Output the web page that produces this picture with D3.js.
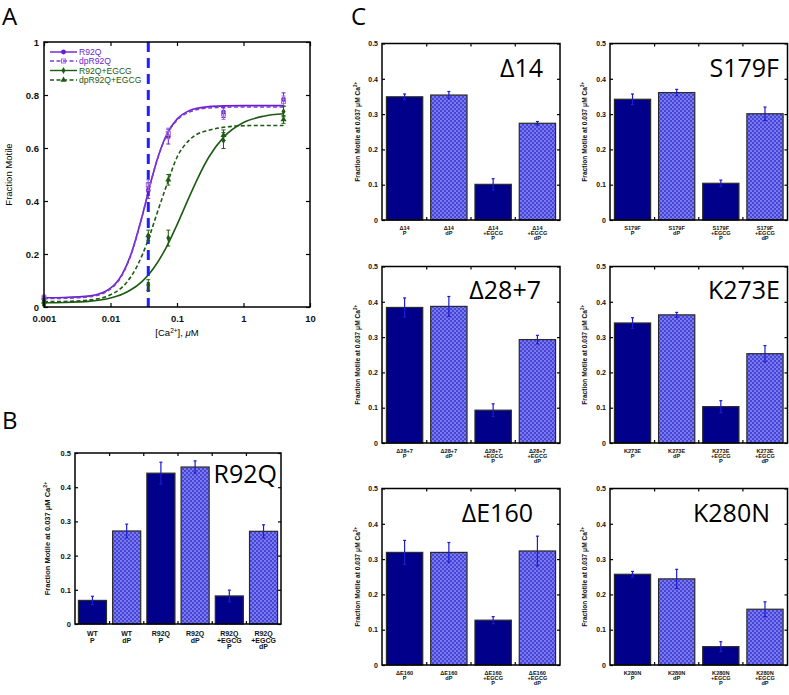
<!DOCTYPE html>
<html>
<head>
<meta charset="utf-8">
<script src="https://cdn.jsdelivr.net/npm/d3@7"></script>
<style>
body { margin: 0; background: #fff; }
svg { display: block; font-family: "Liberation Sans", Arial, sans-serif; }
</style>
</head>
<body>
<div id="fig"></div>
<script>
// ---- Panel A data: fraction motile vs [Ca2+]
var caConc = [0.001, 0.037, 0.074, 0.5, 4];
var r92q = [0.030, 0.440, 0.643, 0.735, 0.783];
var r92qErr = [0.010, 0.030, 0.028, 0.020, 0.025];
var dpR92q = [0.035, 0.460, 0.655, 0.728, 0.776];
var dpR92qErr = [0.010, 0.020, 0.020, 0.020, 0.020];
var r92qEgcg = [0.015, 0.083, 0.260, 0.628, 0.738];
var r92qEgcgErr = [0.010, 0.020, 0.030, 0.030, 0.020];
var dpR92qEgcg = [0.020, 0.270, 0.480, 0.648, 0.708];
var dpR92qEgcgErr = [0.010, 0.020, 0.020, 0.020, 0.015];

// fitted curves
var fitCa = [0.001, 0.002, 0.005, 0.01, 0.015, 0.02, 0.03, 0.04, 0.05, 0.07, 0.1, 0.15, 0.2, 0.3, 0.5, 1, 2, 4];
var fitR92q = [0.035, 0.036, 0.042, 0.071, 0.124, 0.194, 0.344, 0.467, 0.554, 0.651, 0.709, 0.740, 0.750, 0.756, 0.759, 0.760, 0.760, 0.760];
var fitDpR92q = [0.032, 0.033, 0.039, 0.068, 0.121, 0.192, 0.343, 0.467, 0.553, 0.648, 0.705, 0.735, 0.745, 0.751, 0.754, 0.755, 0.755, 0.755];
var fitR92qEgcg = [0.016, 0.017, 0.022, 0.034, 0.048, 0.064, 0.097, 0.131, 0.165, 0.228, 0.310, 0.411, 0.480, 0.565, 0.640, 0.696, 0.720, 0.729];
var fitDpR92qEgcg = [0.020, 0.021, 0.027, 0.046, 0.075, 0.112, 0.196, 0.279, 0.353, 0.460, 0.565, 0.628, 0.652, 0.667, 0.678, 0.684, 0.685, 0.685];

var seriesNames = ['R92Q', 'dpR92Q', 'R92Q+EGCG', 'dpR92Q+EGCG'];
var xTicksA = [0.001, 0.01, 0.1, 1, 10];
var yTicksA = [0, 0.2, 0.4, 0.6, 0.8, 1];

// ---- Panel B data: fraction motile at 0.037 uM Ca2+
var bLabels = [['WT', 'P'], ['WT', 'dP'], ['R92Q', 'P'], ['R92Q', 'dP'], ['R92Q', '+EGCG', 'P'], ['R92Q', '+EGCG', 'dP']];
var bKinds = ['P', 'dP', 'P', 'dP', 'P', 'dP'];
var bValues = [0.069, 0.272, 0.441, 0.459, 0.082, 0.271];
var bErrors = [0.012, 0.020, 0.032, 0.018, 0.017, 0.019];

// ---- Panel C data
var cMutants = ['\u039414', 'S179F', '\u039428+7', 'K273E', '\u0394E160', 'K280N'];
var cKinds = ['P', 'dP', 'P', 'dP'];
var cValues = [
  [0.349, 0.354, 0.101, 0.274],
  [0.342, 0.361, 0.104, 0.301],
  [0.384, 0.387, 0.093, 0.293],
  [0.340, 0.363, 0.103, 0.253],
  [0.319, 0.319, 0.127, 0.323],
  [0.257, 0.244, 0.052, 0.158]
];
var cErrors = [
  [0.008, 0.010, 0.016, 0.005],
  [0.015, 0.009, 0.009, 0.019],
  [0.027, 0.028, 0.018, 0.012],
  [0.015, 0.007, 0.017, 0.023],
  [0.034, 0.028, 0.010, 0.042],
  [0.008, 0.027, 0.014, 0.021]
];
var barTicks = [0, 0.1, 0.2, 0.3, 0.4, 0.5];

var width = 789, height = 695;
var svg = d3.select('#fig').append('svg').attr('width', width).attr('height', height);

// checkered fill for the dP bars
var pat = svg.append('defs').append('pattern').attr('id', 'dpFill')
  .attr('patternUnits', 'userSpaceOnUse').attr('width', 4).attr('height', 4);
pat.append('rect').attr('width', 4).attr('height', 4).attr('fill', '#4646d6');
pat.append('rect').attr('width', 2).attr('height', 2).attr('fill', '#7a7aee');
pat.append('rect').attr('x', 2).attr('y', 2).attr('width', 2).attr('height', 2).attr('fill', '#7a7aee');

// panel letters
svg.append('text').attr('x', 2).attr('y', 25).text('A');
svg.append('text').attr('x', 2).attr('y', 429).text('B');
svg.append('text').attr('x', 351).attr('y', 25).text('C');
svg.selectAll('text').attr('font-family', '"Open Sans", sans-serif').attr('font-size', 24);

function styleAxis(g, fs) {
  g.select('.domain').remove();
  g.attr('font-family', null).attr('font-size', fs).attr('font-weight', 'bold');
  g.selectAll('line').attr('stroke', '#000').attr('stroke-width', 1.2);
  g.selectAll('text').attr('fill', '#111');
}

// ================= Panel A =================
var A = {left: 44, right: 310, top: 42, bottom: 307};
var xA = d3.scaleLog().domain([0.001, 10]).range([A.left, A.right]);
var yA = d3.scaleLinear().domain([0, 1]).range([A.bottom, A.top]);
var gA = svg.append('g');

var purple = '#6a1fcf', midPurple = '#7d3ad8', lightPurple = '#a06ae0', green = '#1d5a12';
var colors = [purple, midPurple, green, green];
var markColors = [purple, lightPurple, green, green];
var dashes = [null, '4,2.5', null, '4,2.5'];
var markers = ['circle', 'square', 'diamond', 'triangle'];
var pts = [r92q, dpR92q, r92qEgcg, dpR92qEgcg];
var errs = [r92qErr, dpR92qErr, r92qEgcgErr, dpR92qEgcgErr];
var fits = [fitR92q, fitDpR92q, fitR92qEgcg, fitDpR92qEgcg];

gA.append('g').attr('transform', 'translate(0,' + A.bottom + ')')
  .call(d3.axisBottom(xA).tickValues(xTicksA).tickFormat(d3.format('~g')).tickSizeInner(-4).tickSizeOuter(0).tickPadding(8))
  .call(g => styleAxis(g, 9.5));
gA.append('g').attr('transform', 'translate(0,' + A.top + ')')
  .call(d3.axisTop(xA).tickValues(xTicksA).tickFormat('').tickSizeInner(-4).tickSizeOuter(0))
  .call(g => styleAxis(g, 9.5));
gA.append('g').attr('transform', 'translate(' + A.left + ',0)')
  .call(d3.axisLeft(yA).tickValues(yTicksA).tickFormat(d3.format('~g')).tickSizeInner(-4).tickSizeOuter(0).tickPadding(5))
  .call(g => styleAxis(g, 9.5));
gA.append('g').attr('transform', 'translate(' + A.right + ',0)')
  .call(d3.axisRight(yA).tickValues(yTicksA).tickFormat('').tickSizeInner(-4).tickSizeOuter(0))
  .call(g => styleAxis(g, 9.5));

// fitted curves
var line = d3.line().x(d => xA(d[0])).y(d => yA(d[1])).curve(d3.curveMonotoneX);
fits.forEach(function (f, k) {
  gA.append('path').datum(fitCa.map((c, i) => [c, f[i]]))
    .attr('d', line).attr('fill', 'none').attr('stroke', colors[k])
    .attr('stroke-width', 1.6).attr('stroke-dasharray', dashes[k]);
});

// 0.037 uM reference line
gA.append('line').attr('x1', xA(0.037)).attr('x2', xA(0.037))
  .attr('y1', A.top).attr('y2', A.bottom)
  .attr('stroke', '#1f1fff').attr('stroke-width', 3).attr('stroke-dasharray', '10,6');

function marker(g, type, cx, cy, color) {
  if (type === 'circle') g.append('circle').attr('cx', cx).attr('cy', cy).attr('r', 2.4).attr('fill', color);
  else if (type === 'square') g.append('rect').attr('x', cx - 2).attr('y', cy - 2).attr('width', 4).attr('height', 4)
    .attr('fill', 'none').attr('stroke', color).attr('stroke-width', 1);
  else if (type === 'diamond') g.append('path').attr('d', d3.symbol(d3.symbolDiamond, 14)()).attr('transform', 'translate(' + cx + ',' + cy + ')').attr('fill', color);
  else g.append('path').attr('d', d3.symbol(d3.symbolTriangle, 16)()).attr('transform', 'translate(' + cx + ',' + cy + ')').attr('fill', color);
}

// data points with error bars
pts.forEach(function (s, k) {
  var g = gA.append('g');
  s.forEach(function (v, i) {
    var cx = xA(caConc[i]), e = errs[k][i];
    g.append('line').attr('x1', cx).attr('x2', cx).attr('y1', yA(v - e)).attr('y2', yA(v + e))
      .attr('stroke', markColors[k]).attr('stroke-width', 1);
    [v - e, v + e].forEach(function (w) {
      g.append('line').attr('x1', cx - 2).attr('x2', cx + 2).attr('y1', yA(w)).attr('y2', yA(w))
        .attr('stroke', markColors[k]).attr('stroke-width', 1);
    });
    marker(g, markers[k], cx, yA(v), markColors[k]);
  });
});

// frame
gA.append('rect').attr('x', A.left).attr('y', A.top).attr('width', A.right - A.left).attr('height', A.bottom - A.top)
  .attr('fill', 'none').attr('stroke', '#000').attr('stroke-width', 1.5);

// legend
var legY = [52, 61, 70.5, 80];
seriesNames.forEach(function (name, k) {
  var g = gA.append('g');
  g.append('line').attr('x1', 50).attr('x2', 77).attr('y1', legY[k]).attr('y2', legY[k])
    .attr('stroke', colors[k]).attr('stroke-width', 1.4).attr('stroke-dasharray', dashes[k]);
  marker(g, markers[k], 63.5, legY[k], markColors[k]);
  g.append('text').attr('x', 79).attr('y', legY[k] + 3).attr('font-size', 8.6)
    .attr('fill', k < 2 ? purple : green).text(name);
});

// axis titles
var xt = gA.append('text').attr('x', 177).attr('y', 336).attr('text-anchor', 'middle').attr('font-size', 9.5);
xt.append('tspan').text('[Ca');
xt.append('tspan').attr('dy', -3.5).attr('font-size', 6.5).text('2+');
xt.append('tspan').attr('dy', 3.5).text('], ');
xt.append('tspan').attr('font-style', 'italic').text('\u03bc');
xt.append('tspan').text('M');
gA.append('text').attr('transform', 'translate(12,' + (A.top + A.bottom) / 2 + ') rotate(-90)')
  .attr('text-anchor', 'middle').attr('font-size', 9.5).text('Fraction Motile');

// ================= bar panels (B and C) =================
function barPanel(p) {
  var g = svg.append('g');
  var n = p.values.length;
  var x = d3.scaleBand().domain(d3.range(n)).range([p.left, p.right]).paddingInner(0.18).paddingOuter(0.1);
  var y = d3.scaleLinear().domain([0, 0.5]).range([p.bottom, p.top]);
  var bw = x.bandwidth(), step = x.step();

  g.selectAll('rect.bar').data(p.values).join('rect').attr('class', 'bar')
    .attr('x', (d, i) => x(i)).attr('width', bw)
    .attr('y', d => y(d)).attr('height', d => y(0) - y(d))
    .attr('fill', (d, i) => p.kinds[i] === 'P' ? '#00008a' : 'url(#dpFill)')
    .attr('stroke', '#2a2a2a').attr('stroke-width', 1.2);

  // error bars
  p.values.forEach(function (v, i) {
    var cx = x(i) + bw / 2, e = p.errors[i];
    g.append('line').attr('x1', cx).attr('x2', cx).attr('y1', y(v - e)).attr('y2', y(v + e))
      .attr('stroke', '#1c1cd0').attr('stroke-width', 1.2);
    [v - e, v + e].forEach(function (w) {
      g.append('line').attr('x1', cx - 1.5).attr('x2', cx + 1.5).attr('y1', y(w)).attr('y2', y(w))
        .attr('stroke', '#1c1cd0').attr('stroke-width', 1.2);
    });
  });

  g.append('rect').attr('x', p.left).attr('y', p.top).attr('width', p.right - p.left).attr('height', p.bottom - p.top)
    .attr('fill', 'none').attr('stroke', '#000').attr('stroke-width', 1.5);

  g.append('g').attr('transform', 'translate(' + p.left + ',0)')
    .call(d3.axisLeft(y).tickValues(barTicks).tickFormat(d3.format('~g')).tickSizeInner(-3).tickSizeOuter(0).tickPadding(4))
    .call(a => styleAxis(a, p.fs));
  g.append('g').attr('transform', 'translate(' + p.right + ',0)')
    .call(d3.axisRight(y).tickValues(barTicks).tickFormat('').tickSizeInner(-3).tickSizeOuter(0))
    .call(a => styleAxis(a, p.fs));

  // ticks between the bars, top and bottom
  d3.range(1, n).forEach(function (i) {
    var bx = x(i) - step * 0.09;
    [[p.bottom, p.bottom - 3], [p.top, p.top + 3]].forEach(function (t) {
      g.append('line').attr('x1', bx).attr('x2', bx).attr('y1', t[0]).attr('y2', t[1])
        .attr('stroke', '#000').attr('stroke-width', 1.2);
    });
  });

  // category labels
  p.labels.forEach(function (lines, i) {
    var t = g.append('text').attr('text-anchor', 'middle').attr('font-size', p.xfs).attr('font-weight', 'bold').attr('fill', '#111');
    lines.forEach(function (l, j) {
      t.append('tspan').attr('x', x(i) + bw / 2).attr('y', p.bottom + p.xoff + j * p.xstep).text(l);
    });
  });

  // y title
  var yt = g.append('text').attr('transform', 'translate(' + p.ylabX + ',' + (p.top + p.bottom) / 2 + ') rotate(-90)')
    .attr('text-anchor', 'middle').attr('font-size', p.yfs).attr('font-weight', 'bold').attr('fill', '#111');
  yt.append('tspan').text('Fraction Motile at 0.037 \u03bcM Ca');
  yt.append('tspan').attr('dy', -p.yfs * 0.4).attr('font-size', p.yfs * 0.7).text('2+');

  // mutant name
  g.append('text').attr('x', p.nameX).attr('y', p.nameY).attr('text-anchor', 'end')
    .attr('font-family', '"Open Sans", sans-serif').attr('font-size', 25).attr('fill', '#000').text(p.name);
}

// panel B
barPanel({
  left: 75, right: 281, top: 453, bottom: 624, values: bValues, errors: bErrors, kinds: bKinds,
  labels: bLabels, name: 'R92Q', nameX: 277, nameY: 483, ylabX: 50,
  fs: 7.5, xfs: 7, xoff: 12, xstep: 6.5, yfs: 7.5
});

// panel C grid
var cCols = [[382, 560, 360], [610, 787.5, 587]];
var cRows = [[43.5, 220], [266.5, 443], [488.5, 665]];
var cNameX = [543, 779, 541, 780, 533, 770];
var cNameY = [76.5, 76.5, 299, 299, 521.5, 521.5];
cMutants.forEach(function (m, k) {
  var col = cCols[k % 2], row = cRows[Math.floor(k / 2)];
  barPanel({
    left: col[0], right: col[1], top: row[0], bottom: row[1],
    values: cValues[k], errors: cErrors[k], kinds: cKinds,
    labels: [[m, 'P'], [m, 'dP'], [m, '+EGCG', 'P'], [m, '+EGCG', 'dP']],
    name: m, nameX: cNameX[k], nameY: cNameY[k], ylabX: col[2],
    fs: 7, xfs: 5.6, xoff: 10, xstep: 5.2, yfs: 6.6
  });
});
</script>
</body>
</html>
